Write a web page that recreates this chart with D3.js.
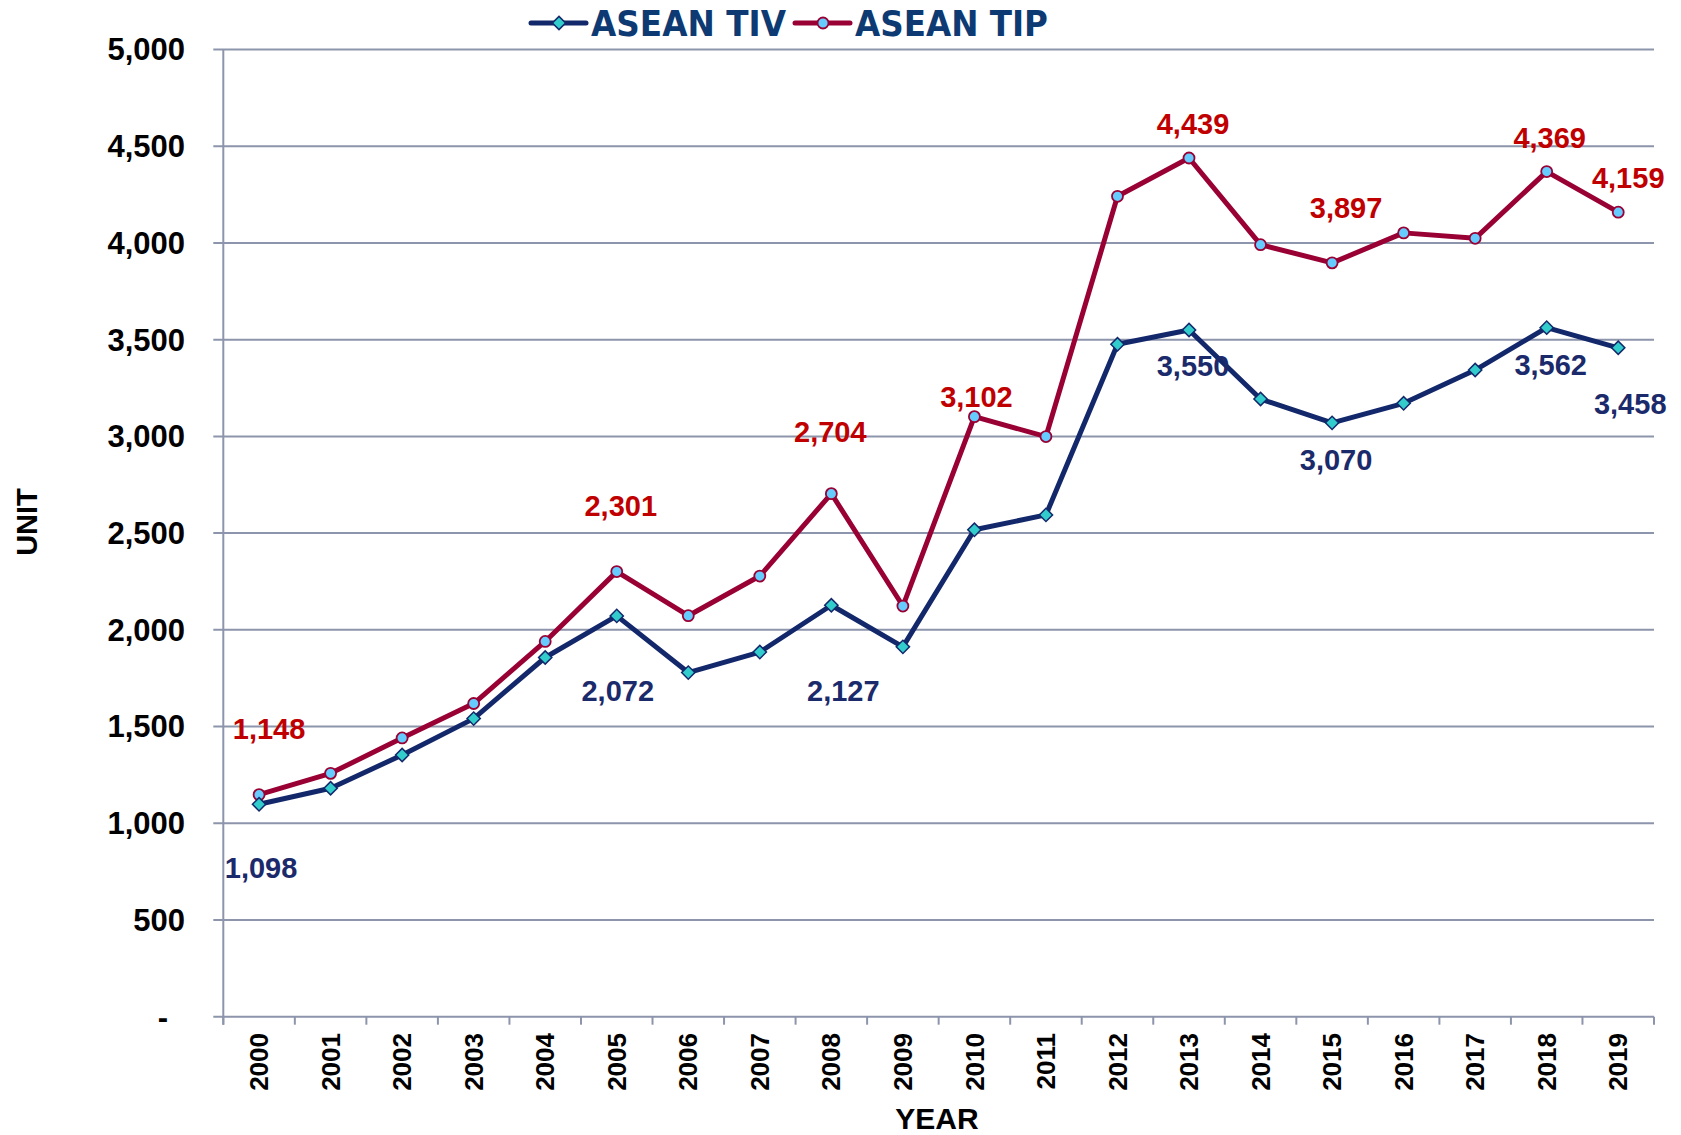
<!DOCTYPE html>
<meta charset="utf-8">
<script src="https://d3js.org/d3.v7.min.js"></script>
<style>
  body { margin: 0; background: #fff; }
  text { font-family: "Liberation Sans", Arial, sans-serif; font-weight: bold; }
</style>
<body>
<div id="my_dataviz"></div>
<script>
var years = ["2000","2001","2002","2003","2004","2005","2006","2007","2008","2009",
             "2010","2011","2012","2013","2014","2015","2016","2017","2018","2019"];
var tivValues = [1098, 1181, 1353, 1541, 1857, 2072, 1779, 1885, 2127, 1912,
                 2517, 2594, 3476, 3550, 3193, 3070, 3171, 3343, 3562, 3458];
var tipValues = [1148, 1258, 1441, 1619, 1940, 2301, 2073, 2278, 2704, 2123,
                 3102, 2999, 4241, 4439, 3991, 3897, 4052, 4024, 4369, 4159];
var yTicks = [0, 500, 1000, 1500, 2000, 2500, 3000, 3500, 4000, 4500, 5000];
var seriesNames = ["ASEAN TIV", "ASEAN TIP"];
// which points carry a value label
var tivLabelled = ["2000","2005","2008","2013","2015","2018","2019"];
var tipLabelled = ["2000","2005","2008","2010","2013","2015","2018","2019"];

(function() {
  var W = 1681, H = 1135;
  var left = 223.3, right = 1654, top = 49.5, bottom = 1016.7;
  var grid = "#8c95ab";
  var tivColor = "#13286b", tipColor = "#990033";

  var svg = d3.select("#my_dataviz").append("svg")
    .attr("width", W).attr("height", H);

  var x = d3.scaleBand().domain(years).range([left, right]).padding(0);
  var y = d3.scaleLinear().domain([0, 5000]).range([bottom, top]);
  var cx = function(d) { return x(d) + x.bandwidth() / 2; };

  // gridlines + y ticks
  svg.append("g").selectAll("line").data(yTicks).join("line")
    .attr("x1", left - 10).attr("x2", right)
    .attr("y1", d => y(d)).attr("y2", d => y(d))
    .attr("stroke", grid).attr("stroke-width", 2);

  svg.append("line")
    .attr("x1", left).attr("x2", left).attr("y1", top).attr("y2", bottom + 8)
    .attr("stroke", grid).attr("stroke-width", 2);

  // x ticks on category boundaries
  var bounds = years.map(d => x(d)).concat([right]);
  svg.append("g").selectAll("line").data(bounds).join("line")
    .attr("x1", d => d).attr("x2", d => d)
    .attr("y1", bottom).attr("y2", bottom + 8)
    .attr("stroke", grid).attr("stroke-width", 2);

  svg.append("g").selectAll("text").data(yTicks).join("text")
    .attr("x", d => d === 0 ? 168 : 185)
    .attr("y", d => y(d))
    .attr("dy", "0.35em")
    .attr("text-anchor", "end")
    .style("font-size", "31px")
    .attr("fill", "#000")
    .text(d => d === 0 ? "-" : d3.format(",")(d));

  svg.append("g").selectAll("text").data(years).join("text")
    .attr("transform", d => "translate(" + cx(d) + ",1033) rotate(-90)")
    .attr("dy", "0.35em")
    .attr("text-anchor", "end")
    .style("font-size", "26px")
    .attr("fill", "#000")
    .text(d => d);

  svg.append("text")
    .attr("x", 937).attr("y", 1129)
    .attr("text-anchor", "middle")
    .style("font-size", "30px")
    .text("YEAR");

  svg.append("text")
    .attr("transform", "translate(27,522) rotate(-90)")
    .attr("dy", "0.35em")
    .attr("text-anchor", "middle")
    .style("font-size", "29px")
    .text("UNIT");

  var line = d3.line().x((d, i) => cx(years[i])).y(d => y(d));

  var diamond = d3.symbol(d3.symbolSquare, 88);

  function drawSeries(values, color, marker) {
    svg.append("path").datum(values)
      .attr("fill", "none").attr("stroke", color)
      .attr("stroke-width", 5).attr("stroke-linejoin", "round")
      .attr("d", line);
    var g = svg.append("g");
    if (marker === "diamond") {
      g.selectAll("path").data(values).join("path")
        .attr("d", diamond)
        .attr("transform", (d, i) => "translate(" + cx(years[i]) + "," + y(d) + ") rotate(45)")
        .attr("fill", "#33cccc").attr("stroke", color).attr("stroke-width", 1.5);
    } else {
      g.selectAll("circle").data(values).join("circle")
        .attr("cx", (d, i) => cx(years[i])).attr("cy", d => y(d))
        .attr("r", 5.5)
        .attr("fill", "#66ccff").attr("stroke", color).attr("stroke-width", 1.8);
    }
  }
  drawSeries(tipValues, tipColor, "circle");
  drawSeries(tivValues, tivColor, "diamond");

  // value labels: pixel offsets from the point
  var tipOffsets = {"2000":[10,-66],"2005":[4,-66],"2008":[-1,-62],"2010":[2,-20],
                    "2013":[4,-34],"2015":[14,-55],"2018":[3,-34],"2019":[10,-34]};
  var tivOffsets = {"2000":[2,64],"2005":[1,75],"2008":[12,86],"2013":[4,36],
                    "2015":[4,37],"2018":[4,37],"2019":[12,56]};

  function drawLabels(values, labelled, offs, color) {
    svg.append("g").selectAll("text").data(labelled).join("text")
      .attr("x", d => cx(d) + offs[d][0])
      .attr("y", d => y(values[years.indexOf(d)]) + offs[d][1])
      .attr("dy", "0.35em")
      .attr("text-anchor", "middle")
      .style("font-size", "29px")
      .attr("fill", color)
      .text(d => d3.format(",")(values[years.indexOf(d)]));
  }
  drawLabels(tipValues, tipLabelled, tipOffsets, "#c00000");
  drawLabels(tivValues, tivLabelled, tivOffsets, "#1b2a6b");

  // legend
  var leg = [
    {name: seriesNames[0], x0: 531, color: tivColor, marker: "diamond"},
    {name: seriesNames[1], x0: 795, color: tipColor, marker: "circle"}
  ];
  leg.forEach(function(l) {
    svg.append("line").attr("x1", l.x0).attr("x2", l.x0 + 55)
      .attr("y1", 23).attr("y2", 23)
      .attr("stroke", l.color).attr("stroke-width", 5).attr("stroke-linecap", "round");
    if (l.marker === "diamond") {
      svg.append("path").attr("d", diamond)
        .attr("transform", "translate(" + (l.x0 + 28) + ",23) rotate(45)")
        .attr("fill", "#33cccc").attr("stroke", l.color).attr("stroke-width", 1.5);
    } else {
      svg.append("circle").attr("cx", l.x0 + 28).attr("cy", 23).attr("r", 5.5)
        .attr("fill", "#66ccff").attr("stroke", l.color).attr("stroke-width", 1.8);
    }
    svg.append("text")
      .attr("x", l.x0 + 60).attr("y", 36)
      .style("font-family", "'DejaVu Sans', Verdana, sans-serif")
      .style("font-size", "35px")
      .attr("textLength", l.name === "ASEAN TIV" ? 195 : 193)
      .attr("lengthAdjust", "spacingAndGlyphs")
      .attr("fill", "#0d3a73")
      .text(l.name);
  });
})();
</script>
</body>
